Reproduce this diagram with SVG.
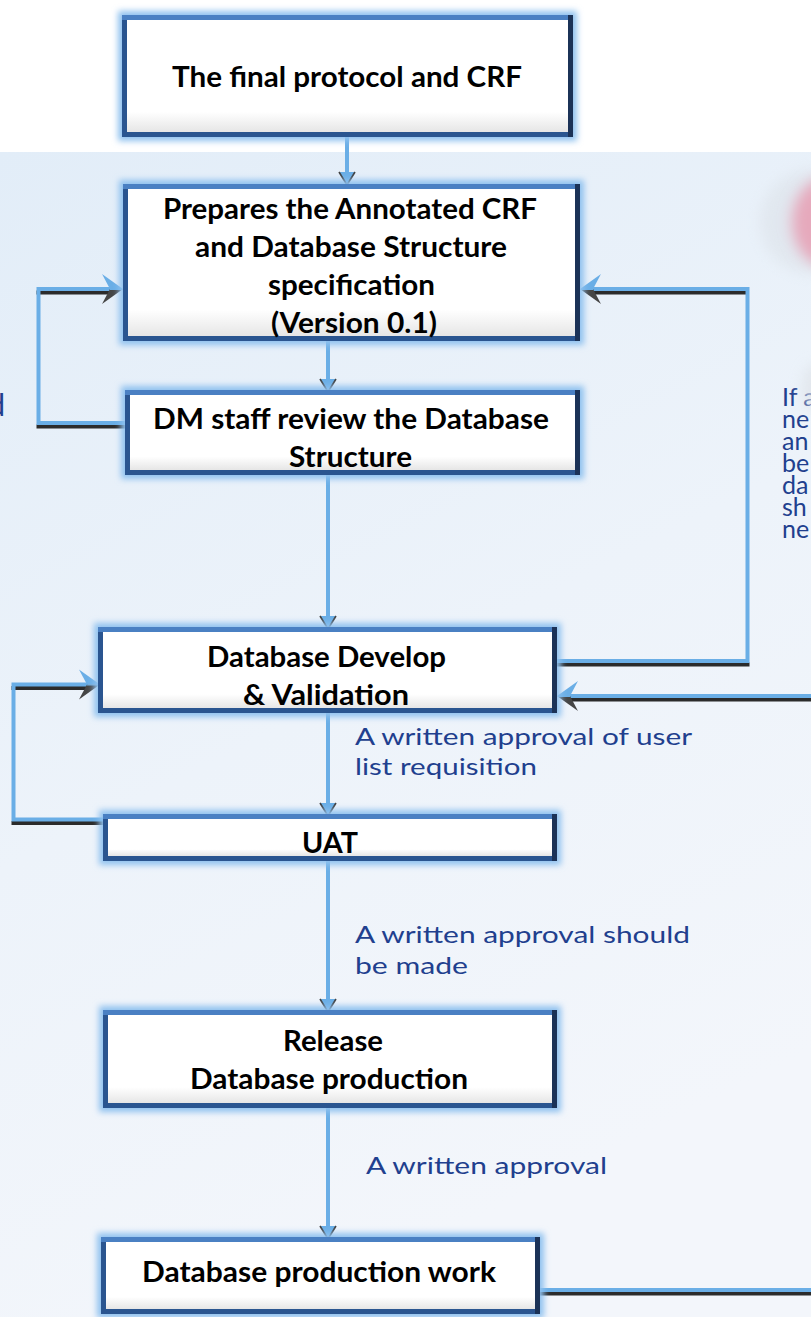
<svg xmlns="http://www.w3.org/2000/svg" width="811" height="1317" viewBox="0 0 811 1317">
  <style>
    .glow{fill:#8fc1ef;filter:url(#soft)}
    .frame{fill:#2a5590}
    .rim{fill:#4a80c3}
    .rside{fill:#1b3257}
    .face{fill:url(#face)}
    .lbl{font-family:Lato,"Open Sans","Liberation Sans",sans-serif;font-weight:700;font-size:28px;fill:#000}
    .note{font-family:Lato,"Open Sans","Liberation Sans",sans-serif;font-size:24px;fill:#213f8e}
    .side{font-family:Lato,"Open Sans","Liberation Sans",sans-serif;font-size:25px;fill:#213f8e}
    .wire{fill:none;stroke:#6aaee6;stroke-width:4}
    .shade{fill:none;stroke:#2b2b2b;stroke-width:4}
  </style>
  <defs>
    <linearGradient id="bg" x1="0" y1="0" x2="0.35" y2="1">
      <stop offset="0" stop-color="#e2edf8"/>
      <stop offset="0.55" stop-color="#edf3fa"/>
      <stop offset="1" stop-color="#f3f6fb"/>
    </linearGradient>
    <linearGradient id="face" x1="0" y1="0" x2="0" y2="1">
      <stop offset="0" stop-color="#ffffff"/>
      <stop offset="0.82" stop-color="#ffffff"/>
      <stop offset="1" stop-color="#e6e6e6"/>
    </linearGradient>
    <filter id="soft" x="-10%" y="-30%" width="120%" height="160%">
      <feGaussianBlur stdDeviation="3"/>
    </filter>
    <filter id="haze" x="-100%" y="-100%" width="300%" height="300%">
      <feGaussianBlur stdDeviation="7"/>
    </filter>
    <!-- downward arrowhead, tip at origin -->
    <g id="headDown">
      <path d="M-8,-13 H8 L0,0 Z" fill="#6aaee6"/>
      <path d="M-8,-13 L0,0 L8,-13" fill="none" stroke="#404040" stroke-width="1.6"/>
    </g>
    <!-- leftward barbed arrowhead, tip at origin -->
    <g id="headLeft">
      <path d="M0,0 L13,0 L21,15 Z" fill="#454545"/>
      <path d="M0,0 L21,-15 L13,0 Z" fill="#6aaee6"/>
      <path d="M1,0.5 L13,0.5" stroke="#6aaee6" stroke-width="1"/>
    </g>
  </defs>

  <!-- page -->
  <rect x="0" y="0" width="811" height="1317" fill="#ffffff"/>
  <rect x="0" y="152" width="811" height="1165" fill="url(#bg)"/>
  <ellipse cx="812" cy="222" rx="52" ry="52" fill="#d8dde3" opacity="0.45" filter="url(#haze)"/>
  <ellipse cx="826" cy="222" rx="34" ry="44" fill="#e6a9bc" filter="url(#haze)"/>

  <!-- side notes -->
  <g id="note-left">
    <text class="side" x="5" y="416" style="font-size:30px" text-anchor="end">d</text>
  </g>
  <g id="note-right">
    <text class="side" x="782" y="406">If a</text>
    <text class="side" x="782" y="428">ne</text>
    <text class="side" x="782" y="450">an</text>
    <text class="side" x="782" y="472">be</text>
    <text class="side" x="782" y="494">da</text>
    <text class="side" x="782" y="516">sh</text>
    <text class="side" x="782" y="538">ne</text>
  </g>
  <ellipse cx="816" cy="388" rx="14" ry="24" fill="#dfe3e8" opacity="0.75" filter="url(#haze)"/>

  <!-- connectors -->
  <g id="connectors">
    <!-- straight flow -->
    <line class="wire" x1="347" y1="137" x2="347" y2="176"/>
    <use href="#headDown" x="347" y="185"/>
    <line class="wire" x1="328" y1="341" x2="328" y2="383"/>
    <use href="#headDown" x="328" y="392"/>
    <line class="wire" x1="328" y1="475" x2="328" y2="620"/>
    <use href="#headDown" x="328" y="629"/>
    <line class="wire" x1="328" y1="713" x2="328" y2="807"/>
    <use href="#headDown" x="328" y="816"/>
    <line class="wire" x1="328" y1="861" x2="328" y2="1003"/>
    <use href="#headDown" x="328" y="1012"/>
    <line class="wire" x1="328" y1="1108" x2="328" y2="1230"/>
    <use href="#headDown" x="328" y="1239"/>

    <!-- review loop: DM staff back to spec -->
    <path class="shade" d="M125,426.5 H36.5"/>
    <path class="shade" d="M36.5,292.5 H112"/>
    <path class="wire" d="M125,423 H38.5 V289 H112"/>
    <use href="#headLeft" transform="translate(123,289) scale(-1,1)"/>

    <!-- UAT loop back to develop -->
    <path class="shade" d="M103,823 H11.5"/>
    <path class="shade" d="M11.5,688 H88"/>
    <path class="wire" d="M103,819.5 H13.5 V684.5 H88"/>
    <use href="#headLeft" transform="translate(100,684.5) scale(-1,1)"/>

    <!-- develop loop back to spec -->
    <path class="shade" d="M557,664.5 H749.5"/>
    <path class="shade" d="M747.5,292.5 H593"/>
    <path class="wire" d="M557,661 H747.5 V289 H593"/>
    <use href="#headLeft" transform="translate(580,289)"/>

    <!-- incoming from the right into develop -->
    <path class="shade" d="M811,699.5 H570"/>
    <path class="wire" d="M811,696 H570"/>
    <use href="#headLeft" transform="translate(557,696)"/>

    <!-- outgoing from production work -->
    <path class="shade" d="M540,1293.5 H811"/>
    <path class="wire" d="M540,1290 H811"/>
  </g>

  <!-- transition labels -->
  <g id="labels">
    <text class="note" x="355" y="745" textLength="337" lengthAdjust="spacingAndGlyphs">A written approval of user</text>
    <text class="note" x="355" y="775" textLength="182" lengthAdjust="spacingAndGlyphs">list requisition</text>
    <text class="note" x="355" y="943" textLength="335" lengthAdjust="spacingAndGlyphs">A written approval should</text>
    <text class="note" x="355" y="974" textLength="113" lengthAdjust="spacingAndGlyphs">be made</text>
    <text class="note" x="366" y="1174" textLength="241" lengthAdjust="spacingAndGlyphs">A written approval</text>
  </g>

  <!-- process steps -->
  <g id="final-protocol">
    <rect class="glow" x="118" y="11" width="459" height="130"/>
    <rect class="frame" x="122" y="15" width="451" height="122"/>
    <rect class="rim" x="122" y="15" width="451" height="5"/>
    <rect class="rside" x="568" y="15" width="5" height="122"/>
    <rect class="face" x="127" y="20" width="441" height="112"/>
    <text class="lbl" x="172" y="87" textLength="350" lengthAdjust="spacingAndGlyphs">The final protocol and CRF</text>
  </g>

  <g id="annotated-crf">
    <rect class="glow" x="119" y="180" width="465" height="165"/>
    <rect class="frame" x="123" y="184" width="457" height="157"/>
    <rect class="rim" x="123" y="184" width="457" height="5"/>
    <rect class="rside" x="575" y="184" width="5" height="157"/>
    <rect class="face" x="128" y="189" width="447" height="147"/>
    <text class="lbl" x="163" y="219" textLength="374" lengthAdjust="spacingAndGlyphs">Prepares the Annotated CRF</text>
    <text class="lbl" x="195" y="257" textLength="312" lengthAdjust="spacingAndGlyphs">and Database Structure</text>
    <text class="lbl" x="268" y="295" textLength="167" lengthAdjust="spacingAndGlyphs">specification</text>
    <text class="lbl" x="271" y="333" textLength="166" lengthAdjust="spacingAndGlyphs">(Version 0.1)</text>
  </g>

  <g id="dm-review">
    <rect class="glow" x="121" y="386" width="463" height="93"/>
    <rect class="frame" x="125" y="390" width="455" height="85"/>
    <rect class="rim" x="125" y="390" width="455" height="5"/>
    <rect class="rside" x="575" y="390" width="5" height="85"/>
    <rect class="face" x="130" y="395" width="445" height="75"/>
    <text class="lbl" x="153" y="429" textLength="396" lengthAdjust="spacingAndGlyphs">DM staff review the Database</text>
    <text class="lbl" x="289" y="467" textLength="123" lengthAdjust="spacingAndGlyphs">Structure</text>
  </g>

  <g id="develop-validation">
    <rect class="glow" x="94" y="623" width="467" height="94"/>
    <rect class="frame" x="98" y="627" width="459" height="86"/>
    <rect class="rim" x="98" y="627" width="459" height="5"/>
    <rect class="rside" x="552" y="627" width="5" height="86"/>
    <rect class="face" x="103" y="632" width="449" height="76"/>
    <text class="lbl" x="207" y="667" textLength="239" lengthAdjust="spacingAndGlyphs">Database Develop</text>
    <text class="lbl" x="243" y="705" textLength="166" lengthAdjust="spacingAndGlyphs">&amp; Validation</text>
  </g>

  <g id="uat">
    <rect class="glow" x="99" y="810" width="462" height="55"/>
    <rect class="frame" x="103" y="814" width="454" height="47"/>
    <rect class="rim" x="103" y="814" width="454" height="5"/>
    <rect class="rside" x="552" y="814" width="5" height="47"/>
    <rect class="face" x="108" y="819" width="444" height="37"/>
    <text class="lbl" x="302" y="853" textLength="56" lengthAdjust="spacingAndGlyphs">UAT</text>
  </g>

  <g id="release">
    <rect class="glow" x="99" y="1006" width="462" height="106"/>
    <rect class="frame" x="103" y="1010" width="454" height="98"/>
    <rect class="rim" x="103" y="1010" width="454" height="5"/>
    <rect class="rside" x="552" y="1010" width="5" height="98"/>
    <rect class="face" x="108" y="1015" width="444" height="88"/>
    <text class="lbl" x="283" y="1051" textLength="100" lengthAdjust="spacingAndGlyphs">Release</text>
    <text class="lbl" x="190" y="1089" textLength="278" lengthAdjust="spacingAndGlyphs">Database production</text>
  </g>

  <g id="production-work">
    <rect class="glow" x="97" y="1233" width="447" height="85"/>
    <rect class="frame" x="101" y="1237" width="439" height="77"/>
    <rect class="rim" x="101" y="1237" width="439" height="5"/>
    <rect class="rside" x="535" y="1237" width="5" height="77"/>
    <rect class="face" x="106" y="1242" width="429" height="67"/>
    <text class="lbl" x="142" y="1282" textLength="354" lengthAdjust="spacingAndGlyphs">Database production work</text>
  </g>
</svg>
